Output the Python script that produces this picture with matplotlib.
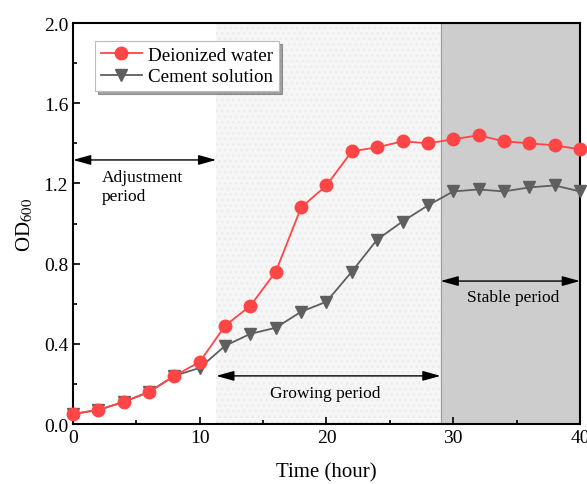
import matplotlib
matplotlib.use("Agg")
import matplotlib.pyplot as plt
from matplotlib.ticker import MultipleLocator

plt.rcParams["font.family"] = ["Liberation Serif", "DejaVu Serif"]
plt.rcParams["mathtext.fontset"] = "stix"
plt.rcParams["hatch.linewidth"] = 1.0

time_h = [0, 2, 4, 6, 8, 10, 12, 14, 16, 18, 20, 22, 24, 26, 28, 30, 32, 34, 36, 38, 40]
od_water = [0.05, 0.07, 0.11, 0.16, 0.24, 0.31, 0.49, 0.59, 0.76, 1.08, 1.19,
            1.36, 1.38, 1.41, 1.40, 1.42, 1.44, 1.41, 1.40, 1.39, 1.37]
od_cement = [0.05, 0.07, 0.11, 0.16, 0.24, 0.28, 0.39, 0.45, 0.48, 0.56, 0.61,
             0.76, 0.92, 1.01, 1.09, 1.16, 1.17, 1.16, 1.18, 1.19, 1.16]

phase_bounds = [0, 11.3, 29, 40]
phase_labels = ["Adjustment\nperiod", "Growing period", "Stable period"]

fig = plt.figure(figsize=(5.87, 4.85), dpi=100)
ax = fig.add_axes([0.1244, 0.1237, 0.8636, 0.8268])

# shaded phases
ax.axvspan(phase_bounds[1], phase_bounds[2], facecolor="#f6f6f6", edgecolor="#ececec",
           hatch="...", lw=0, zorder=0)
ax.axvspan(phase_bounds[2], phase_bounds[3], facecolor="#cdcdcd", edgecolor="#999999", lw=0.8, zorder=0)

ax.plot(time_h, od_water, "-o", color="#ff4545", ms=9, lw=1.3, label="Deionized water", zorder=4, clip_on=False)
ax.plot(time_h, od_cement, "-v", color="#5f5f5f", ms=9, lw=1.3, label="Cement solution", zorder=3, clip_on=False)

# period arrows
arrow = dict(arrowstyle="<|-|>,head_length=0.9,head_width=0.25", color="black", lw=1.0,
             mutation_scale=12, shrinkA=0, shrinkB=0)
ax.annotate("", xy=(phase_bounds[0], 1.317), xytext=(phase_bounds[1], 1.317), arrowprops=arrow)
ax.annotate("", xy=(phase_bounds[1], 0.24), xytext=(phase_bounds[2], 0.24), arrowprops=arrow)
ax.annotate("", xy=(phase_bounds[2], 0.713), xytext=(phase_bounds[3], 0.713), arrowprops=arrow)
ax.text(2.3, 1.185, phase_labels[0], fontsize=12.5, va="center", ha="left", linespacing=1.2)
ax.text(19.9, 0.155, phase_labels[1], fontsize=12.5, va="center", ha="center")
ax.text(34.7, 0.635, phase_labels[2], fontsize=12.5, va="center", ha="center")

ax.set_xlim(0, 40)
ax.set_ylim(0, 2.0)
ax.xaxis.set_major_locator(MultipleLocator(10))
ax.xaxis.set_minor_locator(MultipleLocator(5))
ax.yaxis.set_major_locator(MultipleLocator(0.4))
ax.yaxis.set_minor_locator(MultipleLocator(0.2))
ax.tick_params(which="both", direction="in", top=False, right=False, labelsize=14, width=1.2)
ax.tick_params(which="major", length=5)
ax.tick_params(which="minor", length=3)
for s in ax.spines.values():
    s.set_linewidth(1.5)

ax.set_xlabel("Time (hour)", fontsize=15, labelpad=12)
ax.set_ylabel("OD$_{600}$", fontsize=15, labelpad=6)

leg = ax.legend(loc="upper left", bbox_to_anchor=(0.043, 0.955), fontsize=13.7, frameon=True,
                fancybox=False, shadow=True, borderpad=0.3, handlelength=2.2,
                handletextpad=0.3, labelspacing=0.2, borderaxespad=0)
leg.get_frame().set_edgecolor("#bbbbbb")
leg.get_frame().set_linewidth(0.8)

fig.savefig("out.png", dpi=100)
